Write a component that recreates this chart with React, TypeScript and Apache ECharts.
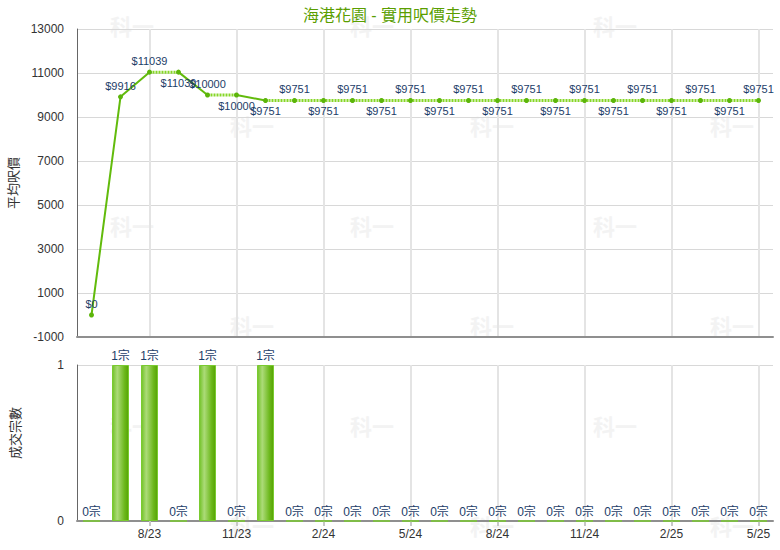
import React, { useEffect, useRef } from "react";
import * as echarts from "echarts";

const categories = [
  "6/23", "7/23", "8/23", "9/23", "10/23", "11/23", "12/23",
  "1/24", "2/24", "3/24", "4/24", "5/24", "6/24", "7/24", "8/24", "9/24", "10/24", "11/24", "12/24",
  "1/25", "2/25", "3/25", "4/25", "5/25",
];
const avgPrice = [
  0, 9916, 11039, 11039, 10000, 10000, 9751,
  9751, 9751, 9751, 9751, 9751, 9751, 9751, 9751, 9751, 9751, 9751, 9751,
  9751, 9751, 9751, 9751, 9751,
];
const deals = [
  0, 1, 1, 0, 1, 0, 1,
  0, 0, 0, 0, 0, 0, 0, 0, 0, 0, 0, 0,
  0, 0, 0, 0, 0,
];
const priceTicks = { min: -1000, max: 13000, interval: 2000 };
const dealTicks = { min: 0, max: 1, interval: 1 };

const FONT = '"Liberation Sans", Arial, "Noto Sans CJK TC", sans-serif';
const LABEL_COLOR = "#1c3d68";
const labelFn = (i: number) => i % 3 === 2;

export default function App() {
  const ref = useRef<HTMLDivElement>(null);
  useEffect(() => {
    if (!ref.current) return;
    const chart = echarts.init(ref.current, undefined, { renderer: "svg" });
    const n = categories.length;

    // runs of solid (next month has a deal) vs dotted segments
    const runs: { solid: boolean; start: number; end: number }[] = [];
    for (let i = 0; i < n - 1; i++) {
      const solid = deals[i + 1] > 0;
      const last = runs[runs.length - 1];
      if (last && last.solid === solid && last.end === i) last.end = i + 1;
      else runs.push({ solid, start: i, end: i + 1 });
    }
    const lineSeries = runs.map((r) => ({
      type: "line",
      xAxisIndex: 0,
      yAxisIndex: 0,
      symbol: "none",
      silent: true,
      connectNulls: false,
      data: avgPrice.map((v, i) => (i >= r.start && i <= r.end ? v : "-")),
      lineStyle: r.solid
        ? { color: "#62bb0c", width: 2, type: "solid" }
        : { color: "#86d628", width: 3, type: [2, 1] },
      z: r.solid ? 3 : 2,
    }));

    const above = (i: number) => i <= 2 || i === 4 || (i >= 7 && i % 2 === 1);

    const pointSeries = {
      type: "line",
      xAxisIndex: 0,
      yAxisIndex: 0,
      symbol: "circle",
      symbolSize: 5,
      showSymbol: true,
      showAllSymbol: true,
      lineStyle: { width: 0, opacity: 0 },
      itemStyle: { color: "#5cb50a" },
      z: 5,
      data: avgPrice.map((v, i) => ({
        value: v,
        label: { position: above(i) ? "top" : "bottom" },
      })),
      label: {
        show: true,
        formatter: (p: any) => "$" + p.value,
        color: LABEL_COLOR,
        fontSize: 11,
        fontFamily: FONT,
        distance: 3,
      },
    };

    const watermarks: any[] = [];
    for (let k = 0; k < 6; k++) {
      const xs = k % 2 === 0 ? [132, 372, 615] : [252, 492, 732];
      xs.forEach((x) =>
        watermarks.push({
          type: "text",
          x,
          y: 25 + 100 * k,
          z: -10,
          silent: true,
          style: {
            text: "科一",
            fill: "#f3f3f3",
            font: 'bold 22px "Noto Sans CJK TC", sans-serif',
            align: "center",
            verticalAlign: "middle",
          },
        })
      );
    }

    const splitLine = {
      show: true,
      interval: labelFn,
      alignWithLabel: true,
      lineStyle: { color: "#e4e4e4", width: 2 },
    };

    const yLabel = {
      color: "#333",
      fontSize: 12,
      fontFamily: FONT,
      margin: 13,
      formatter: (v: number) => String(v),
    };

    chart.setOption({
      animation: false,
      backgroundColor: "#ffffff",
      title: {
        text: "海港花園 - 實用呎價走勢",
        left: "center",
        top: 2,
        textStyle: { color: "#5a9e00", fontSize: 16, fontWeight: "normal", fontFamily: FONT },
      },
      graphic: watermarks,
      grid: [
        { left: 77, right: 7, top: 29, height: 308, containLabel: false, outerBoundsMode: "none" },
        { left: 77, right: 7, top: 365, height: 156, containLabel: false, outerBoundsMode: "none" },
      ],
      xAxis: [
        {
          type: "category",
          gridIndex: 0,
          data: categories,
          boundaryGap: true,
          axisLine: { show: true, onZero: false, lineStyle: { color: "#8f8f8f", width: 2 } },
          axisTick: { show: false },
          axisLabel: { show: false },
          splitLine,
        },
        {
          type: "category",
          gridIndex: 1,
          data: categories,
          boundaryGap: true,
          axisLine: { show: true, onZero: false, lineStyle: { color: "#8f8f8f", width: 2 } },
          axisTick: { show: true, interval: labelFn, alignWithLabel: true, length: 5, lineStyle: { color: "#c8c8c8", width: 2 } },
          axisLabel: { show: true, interval: labelFn, color: "#333", fontSize: 12, fontFamily: FONT, margin: 7 },
          splitLine,
        },
      ],
      yAxis: [
        {
          type: "value",
          gridIndex: 0,
          min: priceTicks.min,
          max: priceTicks.max,
          interval: priceTicks.interval,
          name: "平均呎價",
          nameLocation: "middle",
          nameRotate: 90,
          nameGap: 55,
          nameTextStyle: { color: "#333", fontSize: 13, fontFamily: FONT },
          axisLine: { show: true, lineStyle: { color: "#666", width: 1 } },
          axisTick: { show: false },
          axisLabel: yLabel,
          splitLine: { show: true, lineStyle: { color: "#d8d8d8", width: 1 } },
        },
        {
          type: "value",
          gridIndex: 1,
          min: dealTicks.min,
          max: dealTicks.max,
          interval: dealTicks.interval,
          name: "成交宗數",
          nameLocation: "middle",
          nameRotate: 90,
          nameGap: 55,
          nameTextStyle: { color: "#333", fontSize: 13, fontFamily: FONT, padding: [0, 0, 0, 20] },
          axisLine: { show: true, lineStyle: { color: "#666", width: 1 } },
          axisTick: { show: false },
          axisLabel: yLabel,
          splitLine: { show: true, lineStyle: { color: "#d8d8d8", width: 1 } },
        },
      ],
      series: [
        ...lineSeries,
        pointSeries,
        {
          type: "bar",
          xAxisIndex: 1,
          yAxisIndex: 1,
          barWidth: 17,
          data: deals,
          itemStyle: {
            color: new echarts.graphic.LinearGradient(0, 0, 1, 0, [
              { offset: 0, color: "#72c228" },
              { offset: 0.3, color: "#acdb78" },
              { offset: 0.75, color: "#6cb81c" },
              { offset: 1, color: "#55a304" },
            ]),
            borderColor: "#7acb30",
            borderWidth: 1,
          },
          label: {
            show: true,
            position: "top",
            distance: 3,
            formatter: "{c}宗",
            color: LABEL_COLOR,
            fontSize: 12,
            fontFamily: FONT,
          },
        },
      ],
    });
    return () => chart.dispose();
  }, []);
  return (
    <div
      ref={ref}
      style={{ position: "fixed", left: 0, top: 0, width: 780, height: 550 }}
    />
  );
}
